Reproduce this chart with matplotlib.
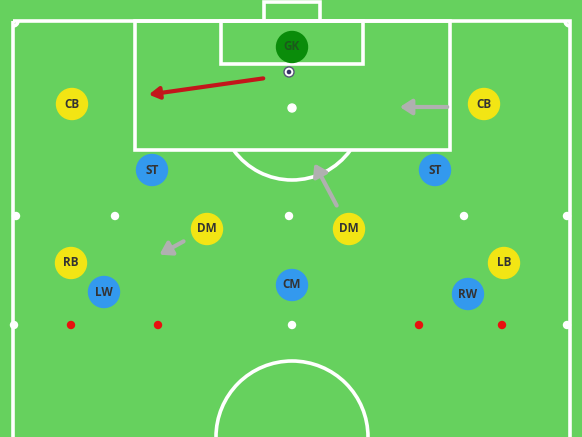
import matplotlib
matplotlib.use('Agg')
import matplotlib.pyplot as plt
import matplotlib.patches as mpatches

W, H = 582, 437
GRASS = '#66d15e'

# players: label, x, y (pixel coords, y down)
yellow_labels = ['CB', 'CB', 'DM', 'DM', 'RB', 'LB']
yellow_x = [72, 484, 207, 349, 71, 504]
yellow_y = [104, 104, 229, 229, 263, 263]
blue_labels = ['ST', 'ST', 'CM', 'LW', 'RW']
blue_x = [152, 435, 292, 104, 468]
blue_y = [170, 170, 285, 292, 294]
gk_x, gk_y = 292, 47
white_dots_x = [16, 115, 289, 464, 567, 14, 292, 567]
white_dots_y = [216, 216, 216, 216, 216, 325, 325, 325]
red_dots_x = [71, 158, 419, 502]
red_dots_y = [325, 325, 325, 325]
red_arrow = (266, 78, 146, 95)
grey_arrows = [(450, 107, 397, 107), (338, 208, 313, 161), (186, 240, 157, 256)]

fig = plt.figure(figsize=(W/100, H/100), dpi=100)
ax = fig.add_axes([0, 0, 1, 1])
ax.set_xlim(0, W); ax.set_ylim(H, 0); ax.axis('off')
fig.patch.set_facecolor(GRASS); ax.set_facecolor(GRASS)

lw = 2.6
def rect(x0, y0, x1, y1):
    ax.add_patch(mpatches.Rectangle((x0, y0), x1-x0, y1-y0, fill=False, ec='white', lw=lw))

rect(13, 21, 570, 445)
rect(264, 2, 320, 21)
rect(135, 21, 450, 150)
rect(221, 21, 363, 64)
ax.add_patch(mpatches.Arc((292, 108), 144, 144, theta1=36, theta2=144, color='white', lw=lw))
ax.add_patch(mpatches.Arc((292, 437), 152, 152, theta1=180, theta2=360, color='white', lw=lw))
ax.add_patch(mpatches.Arc((13, 21), 10, 10, theta1=0, theta2=90, color='white', lw=lw))
ax.add_patch(mpatches.Arc((570, 21), 10, 10, theta1=90, theta2=180, color='white', lw=lw))
ax.add_patch(mpatches.Circle((292, 108), 4, color='white'))

for x, y in zip(white_dots_x, white_dots_y):
    ax.add_patch(mpatches.Circle((x, y), 3.5, color='white'))
for x, y in zip(red_dots_x, red_dots_y):
    ax.add_patch(mpatches.Circle((x, y), 3.5, color='#e8110f'))

x0, y0, x1, y1 = red_arrow
ax.annotate('', xy=(x1, y1), xytext=(x0, y0),
            arrowprops=dict(arrowstyle='-|>,head_length=0.6,head_width=0.35', color='#c3161b', lw=3))
for x0, y0, x1, y1 in grey_arrows:
    ax.annotate('', xy=(x1, y1), xytext=(x0, y0),
                arrowprops=dict(arrowstyle='-|>,head_length=0.7,head_width=0.45', color='#b0b0b0', lw=3))

# ball
ax.add_patch(mpatches.Circle((289, 72), 5, fc='white', ec='#555577', lw=1))
ax.add_patch(mpatches.Circle((289, 72), 1.6, color='#333366'))

def player(x, y, label, fc, tc):
    ax.add_patch(mpatches.Circle((x, y), 15.5, color=fc, zorder=5))
    ax.text(x, y, label, ha='center', va='center', fontsize=8.5, fontweight='bold',
            color=tc, family='Open Sans', zorder=6)

for l, x, y in zip(yellow_labels, yellow_x, yellow_y):
    player(x, y, l, '#f2e514', '#333333')
for l, x, y in zip(blue_labels, blue_x, blue_y):
    player(x, y, l, '#3399ee', '#333333')
player(gk_x, gk_y, 'GK', '#0a8c0a', '#1b5a1b')

fig.savefig('out.png', dpi=100, facecolor=GRASS)
